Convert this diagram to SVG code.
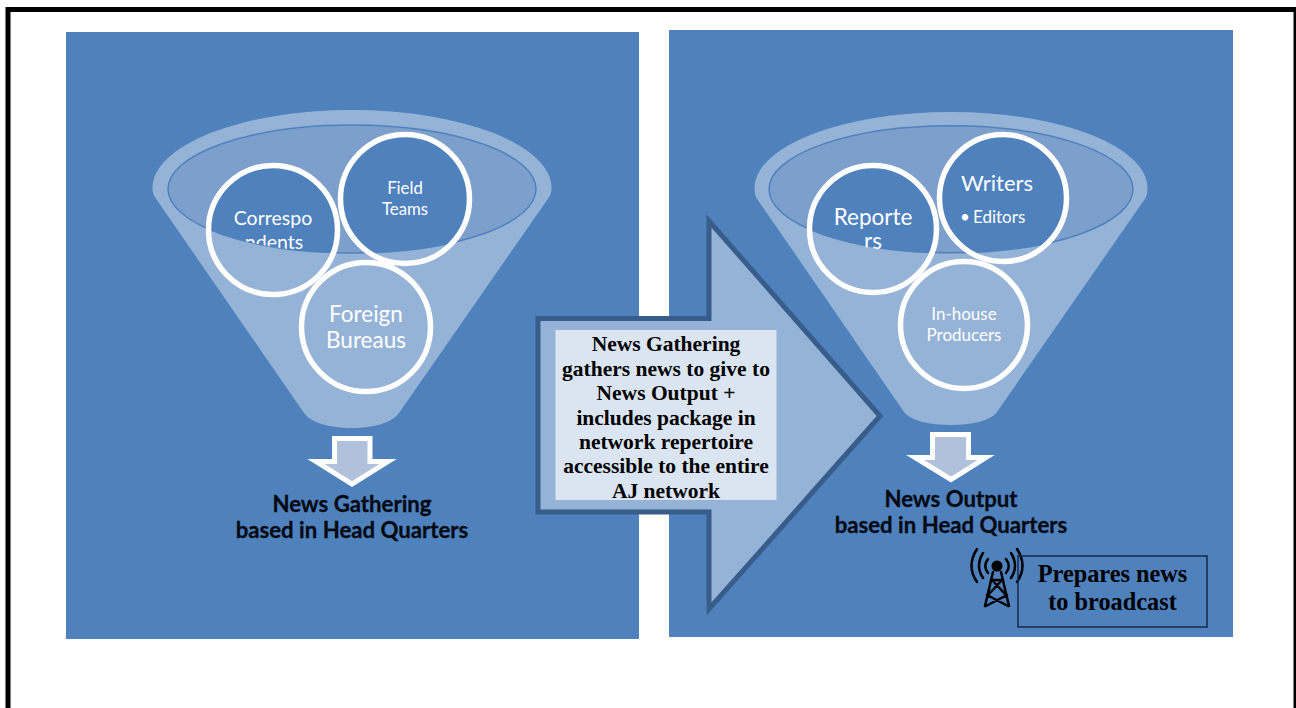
<svg xmlns="http://www.w3.org/2000/svg" width="1296" height="708" viewBox="0 0 1296 708">
<style>
.panel{fill:#4f81bd}
.funnel{fill:#95b3d7}
.rim{fill:#7d9fcc;stroke:#4f81bd;stroke-width:1.5}
.ring{fill:none;stroke:#fff;stroke-width:5.500}
.in{fill:#4f81bd}
.w{font-family:Lato,"Open Sans",sans-serif;fill:#fff;text-anchor:middle}
.lab{font-family:Lato,"Open Sans",sans-serif;font-weight:700;font-size:22.200px;fill:#050a12;stroke:#050a12;stroke-width:.3;text-anchor:middle}
.ser{font-family:"Liberation Serif",serif;font-weight:700;fill:#000;text-anchor:middle}
.down{fill:#b2c1db;stroke:#fff;stroke-width:5;stroke-miterlimit:10}
</style>
<defs>
<clipPath id="c1"><ellipse cx="352" cy="189" rx="184" ry="64"/></clipPath>
<clipPath id="c2"><ellipse cx="951" cy="189.300" rx="182" ry="63.500"/></clipPath>
<clipPath id="c2t"><ellipse cx="951" cy="189.300" rx="182" ry="65.500"/></clipPath>
</defs>
<rect id="frame" x="8" y="9.500" width="1288" height="720" fill="#fff" stroke="#000" stroke-width="5"/>
<g id="panel-left">
<rect class="panel" x="66" y="32" width="573" height="607"/>
<g id="funnel-left">
<path class="funnel" d="M155.500 198C153.500 195 152.500 192 152.500 188A199.500 78 0 0 1 551.500 188C551.500 192 550.500 195 548.500 198L399 413C392 423 373 428 352 428C331 428 311 423 304 413Z"/>
<ellipse class="rim" cx="352" cy="189" rx="184" ry="64"/>
</g>
<g id="node-correspondents">
<circle class="in" cx="273" cy="230" r="64.500" clip-path="url(#c1)"/>
<circle class="ring" cx="273" cy="230" r="64.500"/>
<text class="w" font-size="19.500" x="273" y="225">Correspo</text>
<g clip-path="url(#c1)"><text class="w" font-size="19.500" x="274" y="248.500">ndents</text></g>
</g>
<g id="node-field-teams">
<circle class="in" cx="405" cy="199" r="64.500" clip-path="url(#c1)"/>
<circle class="ring" cx="405" cy="199" r="64.500"/>
<text class="w" font-size="16.800" x="405" y="193.500">Field</text>
<text class="w" font-size="16.800" x="405" y="214.500">Teams</text>
</g>
<g id="node-foreign-bureaus">
<circle class="ring" cx="366" cy="327" r="64.500"/>
<text class="w" font-size="22.500" x="366" y="322">Foreign</text>
<text class="w" font-size="22.500" x="366" y="347.500">Bureaus</text>
</g>
<g id="label-news-gathering">
<text class="lab" x="352" y="512">News Gathering</text>
<text class="lab" x="352" y="538">based in Head Quarters</text>
</g>
</g>
<g id="panel-right">
<rect class="panel" x="669" y="30" width="564" height="607"/>
<g id="funnel-right">
<path class="funnel" d="M756.500 198C755 195 754.500 192 754.500 188A196.500 76 0 0 1 1147.500 188C1147.500 192 1147 195 1145.500 198L997 412C990 421 972 425 951 425C930 425 911 421 904 412Z"/>
<ellipse class="rim" cx="951" cy="189.300" rx="182" ry="63.500"/>
</g>
<g id="node-reporters">
<circle class="in" cx="873" cy="229" r="63.500" clip-path="url(#c2)"/>
<circle class="ring" cx="873" cy="229" r="63.500"/>
<text class="w" font-size="22.500" x="873" y="224.500">Reporte</text>
<g clip-path="url(#c2t)"><text class="w" font-size="22.500" x="873" y="249">rs</text></g>
</g>
<g id="node-writers">
<circle class="in" cx="1003" cy="198" r="63.500" clip-path="url(#c2)"/>
<circle class="ring" cx="1003" cy="198" r="63.500"/>
<text class="w" font-size="22" x="997" y="191">Writers</text>
<text class="w" font-size="17" style="text-anchor:start" x="960" y="223">•</text>
<text class="w" font-size="17" style="text-anchor:start" x="973" y="223">Editors</text>
</g>
<g id="node-inhouse">
<circle class="ring" cx="964" cy="325" r="63.500"/>
<text class="w" font-size="17" x="964" y="320">In-house</text>
<text class="w" font-size="17" x="964" y="341">Producers</text>
</g>
<g id="label-news-output">
<text class="lab" x="951" y="507">News Output</text>
<text class="lab" x="951" y="533">based in Head Quarters</text>
</g>
</g>
<g id="connectors">
<path class="down" d="M334.500 438.500H370V461.500H388L352 484L316 461.500H334.500Z"/>
<path class="down" d="M932.500 434.500H968.500V457.500H986L951 479.500L915 457.500H932.500Z"/>
<path id="big-arrow" fill="#95b3d7" stroke="#385d8a" stroke-width="5" stroke-miterlimit="10" d="M538 318.500H709V221L880 416L709 609V512H538Z"/>
</g>
<g id="node-summary">
<rect x="555.500" y="330" width="221" height="170" fill="#dbe5f1"/>
<text class="ser" font-size="21.500" x="666" y="351">News Gathering</text>
<text class="ser" font-size="21.500" x="666" y="375.500">gathers news to give to</text>
<text class="ser" font-size="21.500" x="666" y="400">News Output +</text>
<text class="ser" font-size="21.500" x="666" y="424.500">includes package in</text>
<text class="ser" font-size="21.500" x="666" y="448.500">network repertoire</text>
<text class="ser" font-size="21.500" x="666" y="473">accessible to the entire</text>
<text class="ser" font-size="21.500" x="666" y="497.500">AJ network</text>
</g>
<g id="node-broadcast">
<g id="tower" fill="none" stroke="#000" stroke-width="2.500" stroke-linecap="round">
<circle cx="997" cy="566" r="5.500" fill="#000" stroke="none"/>
<path d="M993 572L985 606M1001 572L1009 606M991 580H1003M992 580L1006 595M1002 580L988 595M987 595L1008 606M1007 595L986 606"/>
<path d="M988 559Q982.500 566 988 573M1006 559Q1011.500 566 1006 573M983 553Q975 566 983 578M1011 553Q1019 566 1011 578M977 549Q966 566 977 582M1017 549Q1028 566 1017 582"/>
</g>
<rect x="1018" y="556" width="189" height="71" fill="none" stroke="#17294a" stroke-width="1.500"/>
<text class="ser" font-size="24.300" x="1112.500" y="582">Prepares news</text>
<text class="ser" font-size="24.300" x="1112.500" y="610">to broadcast</text>
</g>
</svg>
